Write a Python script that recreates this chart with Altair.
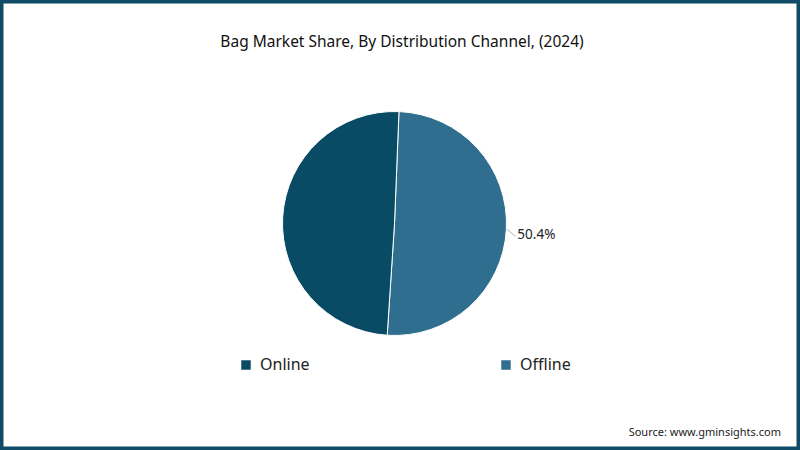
import altair as alt
import pandas as pd

# Distribution channel shares, 2024 (%)
channels = ["Offline", "Online"]
shares = [50.4, 49.6]
ranks = [1, 2]
colors = ["#2F6E8E", "#094B64"]

title_text = "Bag Market Share, By Distribution Channel, (2024)"
source_text = "Source: www.gminsights.com"

FONT = "Noto Sans"
W, H = 800, 450
CX, CY, R = 394.5, 223.5, 112
START = 0.04  # pie rotation in radians

df = pd.DataFrame({"channel": channels, "value": shares, "rank": ranks})
base = alt.Chart(df)

pie = base.mark_arc(stroke="white", strokeWidth=1, outerRadius=R).encode(
    theta=alt.Theta("value:Q", stack=True,
                    scale=alt.Scale(range=[START, START + 2 * 3.141592653589793])),
    order=alt.Order("rank:Q"),
    color=alt.Color(
        "channel:N",
        scale=alt.Scale(domain=["Online", "Offline"], range=[colors[1], colors[0]]),
        legend=alt.Legend(
            title=None, orient="none", legendX=238, legendY=357,
            direction="horizontal", columns=2, columnPadding=188,
            symbolType="square", symbolSize=90, symbolStrokeWidth=0,
            labelFont=FONT, labelFontSize=16, labelColor="#222222",
            labelOffset=6,
        ),
    ),
    x=alt.value(CX),
    y=alt.value(CY),
)

# Leader line and value label for the Offline slice
label_base = base.transform_window(
    cum="sum(value)", sort=[alt.SortField("rank")], frame=[None, 0]
).transform_joinaggregate(
    total="sum(value)"
).transform_calculate(
    ang=f"{START} + 2*PI*(datum.cum - datum.value/2)/datum.total",
).transform_calculate(
    x0=f"{CX} + {R + 1}*sin(datum.ang)",
    y0=f"{CY} - {R + 1}*cos(datum.ang)",
).transform_calculate(
    x1="datum.x0 + 8",
    y1="datum.y0 + 7",
    label="format(datum.value, '.1f') + '%'",
).transform_filter(alt.datum.channel == "Offline")

leader = label_base.mark_rule(color="#9a9a9a", strokeWidth=0.8).encode(
    x=alt.X("x0:Q", scale=None), y=alt.Y("y0:Q", scale=None),
    x2="x1:Q", y2="y1:Q",
)

label = label_base.mark_text(
    align="left", baseline="middle", dx=2, dy=-1,
    font=FONT, fontSize=13.5, color="#222222",
).encode(
    x=alt.X("x1:Q", scale=None), y=alt.Y("y1:Q", scale=None), text="label:N",
)

title = alt.Chart(pd.DataFrame({"t": [title_text]})).mark_text(
    font=FONT, fontSize=15.5, color="#111111", align="center", baseline="middle",
).encode(x=alt.value(W / 2 + 2), y=alt.value(42), text="t:N")

source = alt.Chart(pd.DataFrame({"t": [source_text]})).mark_text(
    font=FONT, fontSize=11, color="#222222", align="right", baseline="middle",
).encode(x=alt.value(781), y=alt.value(433), text="t:N")

frame = alt.Chart(pd.DataFrame({"a": [0]})).mark_rect(
    fill=None, stroke="#0D4B66", strokeWidth=7,
).encode(x=alt.value(0), x2=alt.value(W), y=alt.value(0), y2=alt.value(H))

chart = alt.layer(pie, leader, label, title, source, frame).properties(
    width=W, height=H, padding=0, background="white",
    autosize=alt.AutoSizeParams(type="none"),
).configure_view(stroke=None)

chart.save("out.html", embed_options={"renderer": "svg", "actions": False})
